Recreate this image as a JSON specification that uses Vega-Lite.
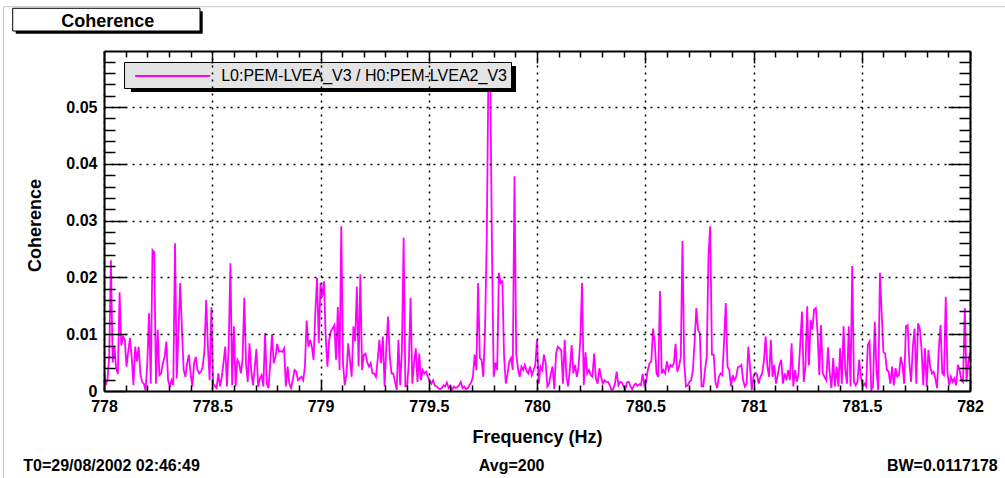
{
"$schema": "https://vega.github.io/schema/vega-lite/v6.json",
"width": 866, "height": 340,
"autosize": {"type": "none"},
"padding": {"left": 104, "top": 51, "right": 35, "bottom": 87},
"background": "white",
"config": {"view": {"stroke": null}, "font": "Liberation Sans"},
"data": {"values": [
{"f":778,"c":0.0037},{"f":778.008,"c":0.001},{"f":778.016,"c":0.002},{"f":778.024,"c":0.006},{"f":778.032,"c":0.023},{"f":778.04,"c":0.005},{"f":778.048,"c":0.008},{"f":778.056,"c":0.004},{"f":778.064,"c":0.003},{"f":778.072,"c":0.0174},
{"f":778.08,"c":0.008},{"f":778.088,"c":0.0096},{"f":778.096,"c":0.009},{"f":778.104,"c":0.0043},{"f":778.112,"c":0.007},{"f":778.12,"c":0.0093},{"f":778.128,"c":0.006},{"f":778.136,"c":0.001},{"f":778.144,"c":0.0078},{"f":778.152,"c":0.0052},
{"f":778.16,"c":0.0078},{"f":778.168,"c":0.003},{"f":778.176,"c":0.0016},{"f":778.184,"c":0.0013},{"f":778.192,"c":0.0001},{"f":778.2,"c":0.0049},{"f":778.208,"c":0.0137},{"f":778.216,"c":0.0013},{"f":778.224,"c":0.0248},{"f":778.232,"c":0.0244},
{"f":778.24,"c":0.0013},{"f":778.248,"c":0.0108},{"f":778.256,"c":0.0028},{"f":778.264,"c":0.0031},{"f":778.272,"c":0.0049},{"f":778.28,"c":0.006},{"f":778.288,"c":0.0087},{"f":778.296,"c":0.0019},{"f":778.304,"c":0.0008},{"f":778.312,"c":0.0019},
{"f":778.32,"c":0.001},{"f":778.328,"c":0.026},{"f":778.336,"c":0.0022},{"f":778.344,"c":0.0108},{"f":778.352,"c":0.019},{"f":778.36,"c":0.0108},{"f":778.368,"c":0.0037},{"f":778.376,"c":0.0025},{"f":778.384,"c":0.0049},{"f":778.392,"c":0.0064},
{"f":778.4,"c":0.003},{"f":778.408,"c":0.0008},{"f":778.416,"c":0.0049},{"f":778.424,"c":0.006},{"f":778.432,"c":0.0037},{"f":778.44,"c":0.0031},{"f":778.448,"c":0.0034},{"f":778.456,"c":0.0043},{"f":778.464,"c":0.0072},{"f":778.472,"c":0.016},
{"f":778.48,"c":0.0078},{"f":778.488,"c":0.0019},{"f":778.496,"c":0.0148},{"f":778.504,"c":0.0013},{"f":778.512,"c":0.0008},{"f":778.52,"c":0.0005},{"f":778.528,"c":0.0031},{"f":778.536,"c":0.0008},{"f":778.544,"c":0.0025},{"f":778.552,"c":0.005},
{"f":778.56,"c":0.0078},{"f":778.568,"c":0.0008},{"f":778.576,"c":0.0081},{"f":778.584,"c":0.0225},{"f":778.592,"c":0.001},{"f":778.6,"c":0.0114},{"f":778.608,"c":0.0008},{"f":778.616,"c":0.0055},{"f":778.624,"c":0.0049},{"f":778.632,"c":0.0031},
{"f":778.64,"c":0.0055},{"f":778.648,"c":0.0164},{"f":778.656,"c":0.0049},{"f":778.664,"c":0.0016},{"f":778.672,"c":0.0084},{"f":778.68,"c":0.0037},{"f":778.688,"c":0.001},{"f":778.696,"c":0.004},{"f":778.704,"c":0.0074},{"f":778.712,"c":0.0008},
{"f":778.72,"c":0.0022},{"f":778.728,"c":0.0028},{"f":778.736,"c":0.0008},{"f":778.744,"c":0.0102},{"f":778.752,"c":0.0013},{"f":778.76,"c":0.0005},{"f":778.768,"c":0.005},{"f":778.776,"c":0.01},{"f":778.784,"c":0.0049},{"f":778.792,"c":0.006},
{"f":778.8,"c":0.0083},{"f":778.808,"c":0.0069},{"f":778.816,"c":0.007},{"f":778.824,"c":0.0069},{"f":778.832,"c":0.0075},{"f":778.84,"c":0.0008},{"f":778.848,"c":0.0043},{"f":778.856,"c":0.0013},{"f":778.864,"c":0.0005},{"f":778.872,"c":0.002},
{"f":778.88,"c":0.0037},{"f":778.888,"c":0.0034},{"f":778.896,"c":0.0019},{"f":778.904,"c":0.0022},{"f":778.912,"c":0.0025},{"f":778.92,"c":0.0019},{"f":778.928,"c":0.0043},{"f":778.936,"c":0.0124},{"f":778.944,"c":0.0078},{"f":778.952,"c":0.009},
{"f":778.96,"c":0.0078},{"f":778.968,"c":0.0055},{"f":778.976,"c":0.0137},{"f":778.984,"c":0.0199},{"f":778.992,"c":0.0084},{"f":779,"c":0.019},{"f":779.008,"c":0.0166},{"f":779.016,"c":0.0193},{"f":779.024,"c":0.0096},{"f":779.032,"c":0.0043},
{"f":779.04,"c":0.009},{"f":779.048,"c":0.0105},{"f":779.056,"c":0.011},{"f":779.064,"c":0.0116},{"f":779.072,"c":0.0055},{"f":779.08,"c":0.0148},{"f":779.088,"c":0.0037},{"f":779.096,"c":0.029},{"f":779.104,"c":0.0049},{"f":779.112,"c":0.001},
{"f":779.12,"c":0.003},{"f":779.128,"c":0.0084},{"f":779.136,"c":0.0055},{"f":779.144,"c":0.0025},{"f":779.152,"c":0.0114},{"f":779.16,"c":0.0087},{"f":779.168,"c":0.0184},{"f":779.176,"c":0.0043},{"f":779.184,"c":0.0205},{"f":779.192,"c":0.0037},
{"f":779.2,"c":0.0064},{"f":779.208,"c":0.0066},{"f":779.216,"c":0.005},{"f":779.224,"c":0.0043},{"f":779.232,"c":0.0049},{"f":779.24,"c":0.0031},{"f":779.248,"c":0.0031},{"f":779.256,"c":0.0025},{"f":779.264,"c":0.0055},{"f":779.272,"c":0.009},
{"f":779.28,"c":0.0049},{"f":779.288,"c":0.0096},{"f":779.296,"c":0.0008},{"f":779.304,"c":0.0078},{"f":779.312,"c":0.0131},{"f":779.32,"c":0.006},{"f":779.328,"c":0.0031},{"f":779.336,"c":0.0031},{"f":779.344,"c":0.0016},{"f":779.352,"c":0.0002},
{"f":779.36,"c":0.009},{"f":779.368,"c":0.001},{"f":779.376,"c":0.0072},{"f":779.384,"c":0.027},{"f":779.392,"c":0.0008},{"f":779.4,"c":0.0008},{"f":779.408,"c":0.005},{"f":779.416,"c":0.0164},{"f":779.424,"c":0.0013},{"f":779.432,"c":0.0049},
{"f":779.44,"c":0.0075},{"f":779.448,"c":0.0016},{"f":779.456,"c":0.0066},{"f":779.464,"c":0.0019},{"f":779.472,"c":0.0037},{"f":779.48,"c":0.0031},{"f":779.488,"c":0.0034},{"f":779.496,"c":0.0025},{"f":779.504,"c":0.0018},{"f":779.512,"c":0.0013},
{"f":779.52,"c":0.0019},{"f":779.528,"c":0.001},{"f":779.536,"c":0.0008},{"f":779.544,"c":0.0005},{"f":779.552,"c":0.0003},{"f":779.56,"c":0.0005},{"f":779.568,"c":0.001},{"f":779.576,"c":0.0008},{"f":779.584,"c":0.0015},{"f":779.592,"c":0.0005},
{"f":779.6,"c":0.0009},{"f":779.608,"c":0.0002},{"f":779.616,"c":0.0008},{"f":779.624,"c":0.0005},{"f":779.632,"c":0.0007},{"f":779.64,"c":0.001},{"f":779.648,"c":0.0016},{"f":779.656,"c":0.0005},{"f":779.664,"c":0.0008},{"f":779.672,"c":0.0003},
{"f":779.68,"c":0.0005},{"f":779.688,"c":0.001},{"f":779.696,"c":0.0015},{"f":779.704,"c":0.0025},{"f":779.712,"c":0.0064},{"f":779.72,"c":0.0037},{"f":779.728,"c":0.019},{"f":779.736,"c":0.0058},{"f":779.744,"c":0.0055},{"f":779.752,"c":0.0025},
{"f":779.76,"c":0.0108},{"f":779.768,"c":0.027},{"f":779.776,"c":0.058},{"f":779.784,"c":0.056},{"f":779.792,"c":0.025},{"f":779.8,"c":0.0025},{"f":779.808,"c":0.005},{"f":779.816,"c":0.0037},{"f":779.824,"c":0.0208},{"f":779.832,"c":0.019},
{"f":779.84,"c":0.0193},{"f":779.848,"c":0.006},{"f":779.856,"c":0.0013},{"f":779.864,"c":0.003},{"f":779.872,"c":0.0052},{"f":779.88,"c":0.0058},{"f":779.888,"c":0.0037},{"f":779.896,"c":0.0378},{"f":779.904,"c":0.0066},{"f":779.912,"c":0.004},
{"f":779.92,"c":0.0025},{"f":779.928,"c":0.0043},{"f":779.936,"c":0.0037},{"f":779.944,"c":0.0046},{"f":779.952,"c":0.0035},{"f":779.96,"c":0.0031},{"f":779.968,"c":0.0043},{"f":779.976,"c":0.0028},{"f":779.984,"c":0.0037},{"f":779.992,"c":0.0046},
{"f":780,"c":0.009},{"f":780.008,"c":0.0013},{"f":780.016,"c":0.0043},{"f":780.024,"c":0.0037},{"f":780.032,"c":0.0064},{"f":780.04,"c":0.0049},{"f":780.048,"c":0.0008},{"f":780.056,"c":0.0013},{"f":780.064,"c":0.0031},{"f":780.072,"c":0.0043},
{"f":780.08,"c":0.0003},{"f":780.088,"c":0.0066},{"f":780.096,"c":0.0078},{"f":780.104,"c":0.0075},{"f":780.112,"c":0.0072},{"f":780.12,"c":0.0013},{"f":780.128,"c":0.009},{"f":780.136,"c":0.0025},{"f":780.144,"c":0.0008},{"f":780.152,"c":0.004},
{"f":780.16,"c":0.0081},{"f":780.168,"c":0.0031},{"f":780.176,"c":0.0046},{"f":780.184,"c":0.0025},{"f":780.192,"c":0.0043},{"f":780.2,"c":0.009},{"f":780.208,"c":0.019},{"f":780.216,"c":0.001},{"f":780.224,"c":0.0068},{"f":780.232,"c":0.0031},
{"f":780.24,"c":0.0037},{"f":780.248,"c":0.0028},{"f":780.256,"c":0.0025},{"f":780.264,"c":0.0066},{"f":780.272,"c":0.0022},{"f":780.28,"c":0.0013},{"f":780.288,"c":0.004},{"f":780.296,"c":0.0025},{"f":780.304,"c":0.0013},{"f":780.312,"c":0.0019},
{"f":780.32,"c":0.0016},{"f":780.328,"c":0.0016},{"f":780.336,"c":0.001},{"f":780.344,"c":0.0002},{"f":780.352,"c":0.0003},{"f":780.36,"c":0.0013},{"f":780.368,"c":0.0034},{"f":780.376,"c":0.001},{"f":780.384,"c":0.0016},{"f":780.392,"c":0.0015},
{"f":780.4,"c":0.0008},{"f":780.408,"c":0.0003},{"f":780.416,"c":0.0015},{"f":780.424,"c":0.0016},{"f":780.432,"c":0.0008},{"f":780.44,"c":0.0003},{"f":780.448,"c":0.001},{"f":780.456,"c":0.0013},{"f":780.464,"c":0.0009},{"f":780.472,"c":0.0012},
{"f":780.48,"c":0.001},{"f":780.488,"c":0.003},{"f":780.496,"c":0.001},{"f":780.504,"c":0.0016},{"f":780.512,"c":0.0037},{"f":780.52,"c":0.0049},{"f":780.528,"c":0.0052},{"f":780.536,"c":0.011},{"f":780.544,"c":0.0084},{"f":780.552,"c":0.0031},
{"f":780.56,"c":0.0025},{"f":780.568,"c":0.0176},{"f":780.576,"c":0.0031},{"f":780.584,"c":0.0037},{"f":780.592,"c":0.0031},{"f":780.6,"c":0.0052},{"f":780.608,"c":0.0037},{"f":780.616,"c":0.0046},{"f":780.624,"c":0.0043},{"f":780.632,"c":0.0049},
{"f":780.64,"c":0.0083},{"f":780.648,"c":0.0034},{"f":780.656,"c":0.0043},{"f":780.664,"c":0.006},{"f":780.672,"c":0.0264},{"f":780.68,"c":0.0049},{"f":780.688,"c":0.0008},{"f":780.696,"c":0.001},{"f":780.704,"c":0.0016},{"f":780.712,"c":0.0019},
{"f":780.72,"c":0.0037},{"f":780.728,"c":0.0087},{"f":780.736,"c":0.0146},{"f":780.744,"c":0.0108},{"f":780.752,"c":0.0102},{"f":780.76,"c":0.0008},{"f":780.768,"c":0.0008},{"f":780.776,"c":0.0037},{"f":780.784,"c":0.006},{"f":780.792,"c":0.0237},
{"f":780.8,"c":0.029},{"f":780.808,"c":0.0064},{"f":780.816,"c":0.0064},{"f":780.824,"c":0.0016},{"f":780.832,"c":0.0005},{"f":780.84,"c":0.0025},{"f":780.848,"c":0.0031},{"f":780.856,"c":0.0028},{"f":780.864,"c":0.0087},{"f":780.872,"c":0.0155},
{"f":780.88,"c":0.0043},{"f":780.888,"c":0.0037},{"f":780.896,"c":0.0008},{"f":780.904,"c":0.0028},{"f":780.912,"c":0.0019},{"f":780.92,"c":0.0025},{"f":780.928,"c":0.0042},{"f":780.936,"c":0.0043},{"f":780.944,"c":0.0046},{"f":780.952,"c":0.0019},
{"f":780.96,"c":0.0008},{"f":780.968,"c":0.0013},{"f":780.976,"c":0.0078},{"f":780.984,"c":0.0043},{"f":780.992,"c":0.0002},{"f":781,"c":0.0025},{"f":781.008,"c":0.0032},{"f":781.016,"c":0.003},{"f":781.024,"c":0.0013},{"f":781.032,"c":0.0025},
{"f":781.04,"c":0.0031},{"f":781.048,"c":0.0052},{"f":781.056,"c":0.0096},{"f":781.064,"c":0.0043},{"f":781.072,"c":0.0025},{"f":781.08,"c":0.009},{"f":781.088,"c":0.0025},{"f":781.096,"c":0.0046},{"f":781.104,"c":0.0013},{"f":781.112,"c":0.0028},
{"f":781.12,"c":0.0046},{"f":781.128,"c":0.0055},{"f":781.136,"c":0.0013},{"f":781.144,"c":0.0031},{"f":781.152,"c":0.0019},{"f":781.16,"c":0.0037},{"f":781.168,"c":0.0019},{"f":781.176,"c":0.0084},{"f":781.184,"c":0.0008},{"f":781.192,"c":0.0037},
{"f":781.2,"c":0.0016},{"f":781.208,"c":0.0031},{"f":781.216,"c":0.0084},{"f":781.224,"c":0.014},{"f":781.232,"c":0.0016},{"f":781.24,"c":0.0043},{"f":781.248,"c":0.0149},{"f":781.256,"c":0.0045},{"f":781.264,"c":0.0125},{"f":781.272,"c":0.0108},
{"f":781.28,"c":0.0143},{"f":781.288,"c":0.0146},{"f":781.296,"c":0.0102},{"f":781.304,"c":0.0028},{"f":781.312,"c":0.0116},{"f":781.32,"c":0.0031},{"f":781.328,"c":0.0025},{"f":781.336,"c":0.0019},{"f":781.344,"c":0.0077},{"f":781.352,"c":0.0031},
{"f":781.36,"c":0.0005},{"f":781.368,"c":0.0058},{"f":781.376,"c":0.0008},{"f":781.384,"c":0.0043},{"f":781.392,"c":0.0008},{"f":781.4,"c":0.0075},{"f":781.408,"c":0.0013},{"f":781.416,"c":0.0114},{"f":781.424,"c":0.0037},{"f":781.432,"c":0.0013},
{"f":781.44,"c":0.0114},{"f":781.448,"c":0.0008},{"f":781.456,"c":0.022},{"f":781.464,"c":0.0016},{"f":781.472,"c":0.001},{"f":781.48,"c":0.0016},{"f":781.488,"c":0.0055},{"f":781.496,"c":0.0025},{"f":781.504,"c":0.0008},{"f":781.512,"c":0.0013},
{"f":781.52,"c":0.0008},{"f":781.528,"c":0.0081},{"f":781.536,"c":0.0087},{"f":781.544,"c":0.0002},{"f":781.552,"c":0.0008},{"f":781.56,"c":0.0122},{"f":781.568,"c":0.0037},{"f":781.576,"c":0.0002},{"f":781.584,"c":0.0208},{"f":781.592,"c":0.0137},
{"f":781.6,"c":0.0069},{"f":781.608,"c":0.0066},{"f":781.616,"c":0.0037},{"f":781.624,"c":0.0034},{"f":781.632,"c":0.0013},{"f":781.64,"c":0.0043},{"f":781.648,"c":0.001},{"f":781.656,"c":0.004},{"f":781.664,"c":0.0025},{"f":781.672,"c":0.0028},
{"f":781.68,"c":0.006},{"f":781.688,"c":0.0046},{"f":781.696,"c":0.0013},{"f":781.704,"c":0.0114},{"f":781.712,"c":0.0116},{"f":781.72,"c":0.0049},{"f":781.728,"c":0.0016},{"f":781.736,"c":0.0078},{"f":781.744,"c":0.011},{"f":781.752,"c":0.0013},
{"f":781.76,"c":0.0119},{"f":781.768,"c":0.011},{"f":781.776,"c":0.0075},{"f":781.784,"c":0.001},{"f":781.792,"c":0.0075},{"f":781.8,"c":0.0008},{"f":781.808,"c":0.0072},{"f":781.816,"c":0.0043},{"f":781.824,"c":0.0031},{"f":781.832,"c":0.0034},
{"f":781.84,"c":0.0022},{"f":781.848,"c":0.0005},{"f":781.856,"c":0.0075},{"f":781.864,"c":0.0116},{"f":781.872,"c":0.0031},{"f":781.88,"c":0.0028},{"f":781.888,"c":0.0166},{"f":781.896,"c":0.0031},{"f":781.904,"c":0.001},{"f":781.912,"c":0.0025},
{"f":781.92,"c":0.0016},{"f":781.928,"c":0.0022},{"f":781.936,"c":0.001},{"f":781.944,"c":0.0046},{"f":781.952,"c":0.0037},{"f":781.96,"c":0.0019},{"f":781.968,"c":0.0016},{"f":781.976,"c":0.0146},{"f":781.984,"c":0.0016},{"f":781.992,"c":0.0049},
{"f":782,"c":0.0066}
]},
"layer": [
{"data": {"values": [{}]},
 "mark": {"type": "rect", "fill": null, "stroke": "#c8c8c8", "strokeWidth": 1},
 "encoding": {
  "x": {"datum": 777.5358, "type": "quantitative", "scale": {"domain": [778, 782], "nice": false, "zero": false}, "axis": null},
  "x2": {"datum": 782.2},
  "y": {"datum": 0.06766, "type": "quantitative", "scale": {"domain": [0, 0.05986], "nice": false, "zero": false}, "axis": null},
  "y2": {"datum": -0.0165}}},
{"data": {"values": [{}]},
 "mark": {"type": "rect", "fill": "black"},
 "encoding": {
  "x": {"datum": 777.5921, "type": "quantitative", "scale": {"domain": [778, 782], "nice": false, "zero": false}, "axis": null},
  "x2": {"datum": 778.4559},
  "y": {"datum": 0.06685, "type": "quantitative", "scale": {"domain": [0, 0.05986], "nice": false, "zero": false}, "axis": null},
  "y2": {"datum": 0.0629}}},
{"data": {"values": [{}]},
 "mark": {"type": "rect", "fill": "white", "stroke": "black", "strokeWidth": 1},
 "encoding": {
  "x": {"datum": 777.5783, "type": "quantitative", "scale": {"domain": [778, 782], "nice": false, "zero": false}, "axis": null},
  "x2": {"datum": 778.4434},
  "y": {"datum": 0.06738, "type": "quantitative", "scale": {"domain": [0, 0.05986], "nice": false, "zero": false}, "axis": null},
  "y2": {"datum": 0.06338}}},
{"data": {"values": [{}]},
 "mark": {"type": "text", "text": "Coherence", "font": "Liberation Sans", "fontWeight": "bold", "fontSize": 18, "align": "center", "baseline": "alphabetic", "color": "black"},
 "encoding": {
  "x": {"datum": 778.0176, "type": "quantitative", "scale": {"domain": [778, 782], "nice": false, "zero": false}, "axis": null},
  "y": {"datum": 0.06414, "type": "quantitative", "scale": {"domain": [0, 0.05986], "nice": false, "zero": false}, "axis": null}}},
{"mark": {"type": "line", "color": "#ff00ff", "strokeWidth": 1.8, "clip": true},
 "encoding": {
  "x": {"field": "f", "type": "quantitative", "scale": {"domain": [778, 782], "nice": false, "zero": false},
   "axis": {"orient": "bottom", "zindex": 1,
    "values": [778,778.1,778.2,778.3,778.4,778.5,778.6,778.7,778.8,778.9,779,779.1,779.2,779.3,779.4,779.5,779.6,779.7,779.8,779.9,780,780.1,780.2,780.3,780.4,780.5,780.6,780.7,780.8,780.9,781,781.1,781.2,781.3,781.4,781.5,781.6,781.7,781.8,781.9,782],
    "labelExpr": "abs(datum.value*2-round(datum.value*2))<0.001 ? format(datum.value, '~f') : ''",
    "labelOverlap": false, "labelFlush": false,
    "labelFont": "Liberation Sans", "labelFontWeight": "bold", "labelFontSize": 16, "labelColor": "black", "labelPadding": 19,
    "tickSize": {"condition": {"test": "abs(datum.value*2-round(datum.value*2))<0.001", "value": -12}, "value": -6},
    "tickColor": "black", "tickWidth": 1.5,
    "domainColor": "black", "domainWidth": 2,
    "grid": true, "gridColor": "black", "gridDash": [2, 5], "gridWidth": 1.5,
    "gridOpacity": {"condition": {"test": "abs(datum.value*2-round(datum.value*2))<0.001", "value": 1}, "value": 0},
    "title": "Frequency (Hz)", "titleFont": "Liberation Sans", "titleFontWeight": "bold", "titleFontSize": 18, "titleColor": "black",
    "titleX": 433, "titleY": 51, "titleAlign": "center", "titleBaseline": "alphabetic"}},
  "y": {"field": "c", "type": "quantitative", "scale": {"domain": [0, 0.05986], "nice": false, "zero": false},
   "axis": {"orient": "left", "zindex": 1,
    "values": [0,0.002,0.004,0.006,0.008,0.01,0.012,0.014,0.016,0.018,0.02,0.022,0.024,0.026,0.028,0.03,0.032,0.034,0.036,0.038,0.04,0.042,0.044,0.046,0.048,0.05,0.052,0.054,0.056,0.058],
    "labelExpr": "abs(datum.value*100-round(datum.value*100))<0.001 ? (datum.value == 0 ? '0' : format(datum.value, '.2f')) : ''",
    "labelOverlap": false, "labelFlush": false,
    "labelFont": "Liberation Sans", "labelFontWeight": "bold", "labelFontSize": 16, "labelColor": "black", "labelPadding": 29,
    "tickSize": {"condition": {"test": "abs(datum.value*100-round(datum.value*100))<0.001", "value": -22}, "value": -11},
    "tickColor": "black", "tickWidth": 1.5,
    "domainColor": "black", "domainWidth": 2,
    "grid": true, "gridColor": "black", "gridDash": [2, 5], "gridWidth": 1.5,
    "gridOpacity": {"condition": {"test": "abs(datum.value*100-round(datum.value*100))<0.001 && datum.value > 0", "value": 1}, "value": 0},
    "title": "Coherence", "titleFont": "Liberation Sans", "titleFontWeight": "bold", "titleFontSize": 18, "titleColor": "black",
    "titleX": -64, "titleY": 174, "titleAngle": 270, "titleAlign": "center", "titleBaseline": "alphabetic"}},
  "color": {"datum": "L0:PEM-LVEA_V3 / H0:PEM-LVEA2_V3", "type": "nominal", "scale": {"range": ["#ff00ff"]},
   "legend": {"orient": "none", "legendX": 20, "legendY": 11, "title": null,
    "fillColor": "#e4e4e4", "strokeColor": "black", "padding": 4,
    "symbolType": "M-0.322,0H8.011", "symbolSize": 324, "symbolStrokeWidth": 1.8, "symbolStrokeColor": "#ff00ff",
    "labelFont": "Liberation Sans", "labelFontSize": 16, "labelColor": "black", "labelOffset": 73.2, "labelLimit": 0}}}},
{"mark": {"type": "line", "opacity": 0},
 "encoding": {
  "x": {"field": "f", "type": "quantitative", "scale": {"domain": [778, 782], "nice": false, "zero": false},
   "axis": {"orient": "top", "zindex": 1, "labels": false, "title": null, "grid": false,
    "values": [778,778.1,778.2,778.3,778.4,778.5,778.6,778.7,778.8,778.9,779,779.1,779.2,779.3,779.4,779.5,779.6,779.7,779.8,779.9,780,780.1,780.2,780.3,780.4,780.5,780.6,780.7,780.8,780.9,781,781.1,781.2,781.3,781.4,781.5,781.6,781.7,781.8,781.9,782],
    "tickSize": {"condition": {"test": "abs(datum.value*2-round(datum.value*2))<0.001", "value": -12}, "value": -6},
    "tickColor": "black", "tickWidth": 1.5, "domainColor": "black", "domainWidth": 2}},
  "y": {"field": "c", "type": "quantitative", "scale": {"domain": [0, 0.05986], "nice": false, "zero": false},
   "axis": {"orient": "right", "zindex": 1, "labels": false, "title": null, "grid": false,
    "values": [0,0.002,0.004,0.006,0.008,0.01,0.012,0.014,0.016,0.018,0.02,0.022,0.024,0.026,0.028,0.03,0.032,0.034,0.036,0.038,0.04,0.042,0.044,0.046,0.048,0.05,0.052,0.054,0.056,0.058],
    "tickSize": {"condition": {"test": "abs(datum.value*100-round(datum.value*100))<0.001", "value": -22}, "value": -11},
    "tickColor": "black", "tickWidth": 1.5, "domainColor": "black", "domainWidth": 2}}}},
{"data": {"values": [{}]},
 "mark": {"type": "rect", "fill": "black"},
 "encoding": {
  "x": {"datum": 778.1247, "type": "quantitative", "scale": {"domain": [778, 782], "nice": false, "zero": false}, "axis": null},
  "x2": {"datum": 779.903},
  "y": {"datum": 0.05722, "type": "quantitative", "scale": {"domain": [0, 0.05986], "nice": false, "zero": false}, "axis": null},
  "y2": {"datum": 0.05264}}},
{"data": {"values": [{}]},
 "mark": {"type": "text", "text": "T0=29/08/2002 02:46:49", "font": "Liberation Sans", "fontWeight": "bold", "fontSize": 16, "align": "left", "baseline": "alphabetic", "color": "black"},
 "encoding": {
  "x": {"datum": 777.6273, "type": "quantitative", "scale": {"domain": [778, 782], "nice": false, "zero": false}, "axis": null},
  "y": {"datum": -0.01417, "type": "quantitative", "scale": {"domain": [0, 0.05986], "nice": false, "zero": false}, "axis": null}}},
{"data": {"values": [{}]},
 "mark": {"type": "text", "text": "Avg=200", "font": "Liberation Sans", "fontWeight": "bold", "fontSize": 16, "align": "center", "baseline": "alphabetic", "color": "black"},
 "encoding": {
  "x": {"datum": 779.8827, "type": "quantitative", "scale": {"domain": [778, 782], "nice": false, "zero": false}, "axis": null},
  "y": {"datum": -0.01417, "type": "quantitative", "scale": {"domain": [0, 0.05986], "nice": false, "zero": false}, "axis": null}}},
{"data": {"values": [{}]},
 "mark": {"type": "text", "text": "BW=0.0117178", "font": "Liberation Sans", "fontWeight": "bold", "fontSize": 16, "align": "right", "baseline": "alphabetic", "color": "black"},
 "encoding": {
  "x": {"datum": 782.1279, "type": "quantitative", "scale": {"domain": [778, 782], "nice": false, "zero": false}, "axis": null},
  "y": {"datum": -0.01417, "type": "quantitative", "scale": {"domain": [0, 0.05986], "nice": false, "zero": false}, "axis": null}}}
],
"resolve": {"axis": {"x": "independent", "y": "independent"}}
}
